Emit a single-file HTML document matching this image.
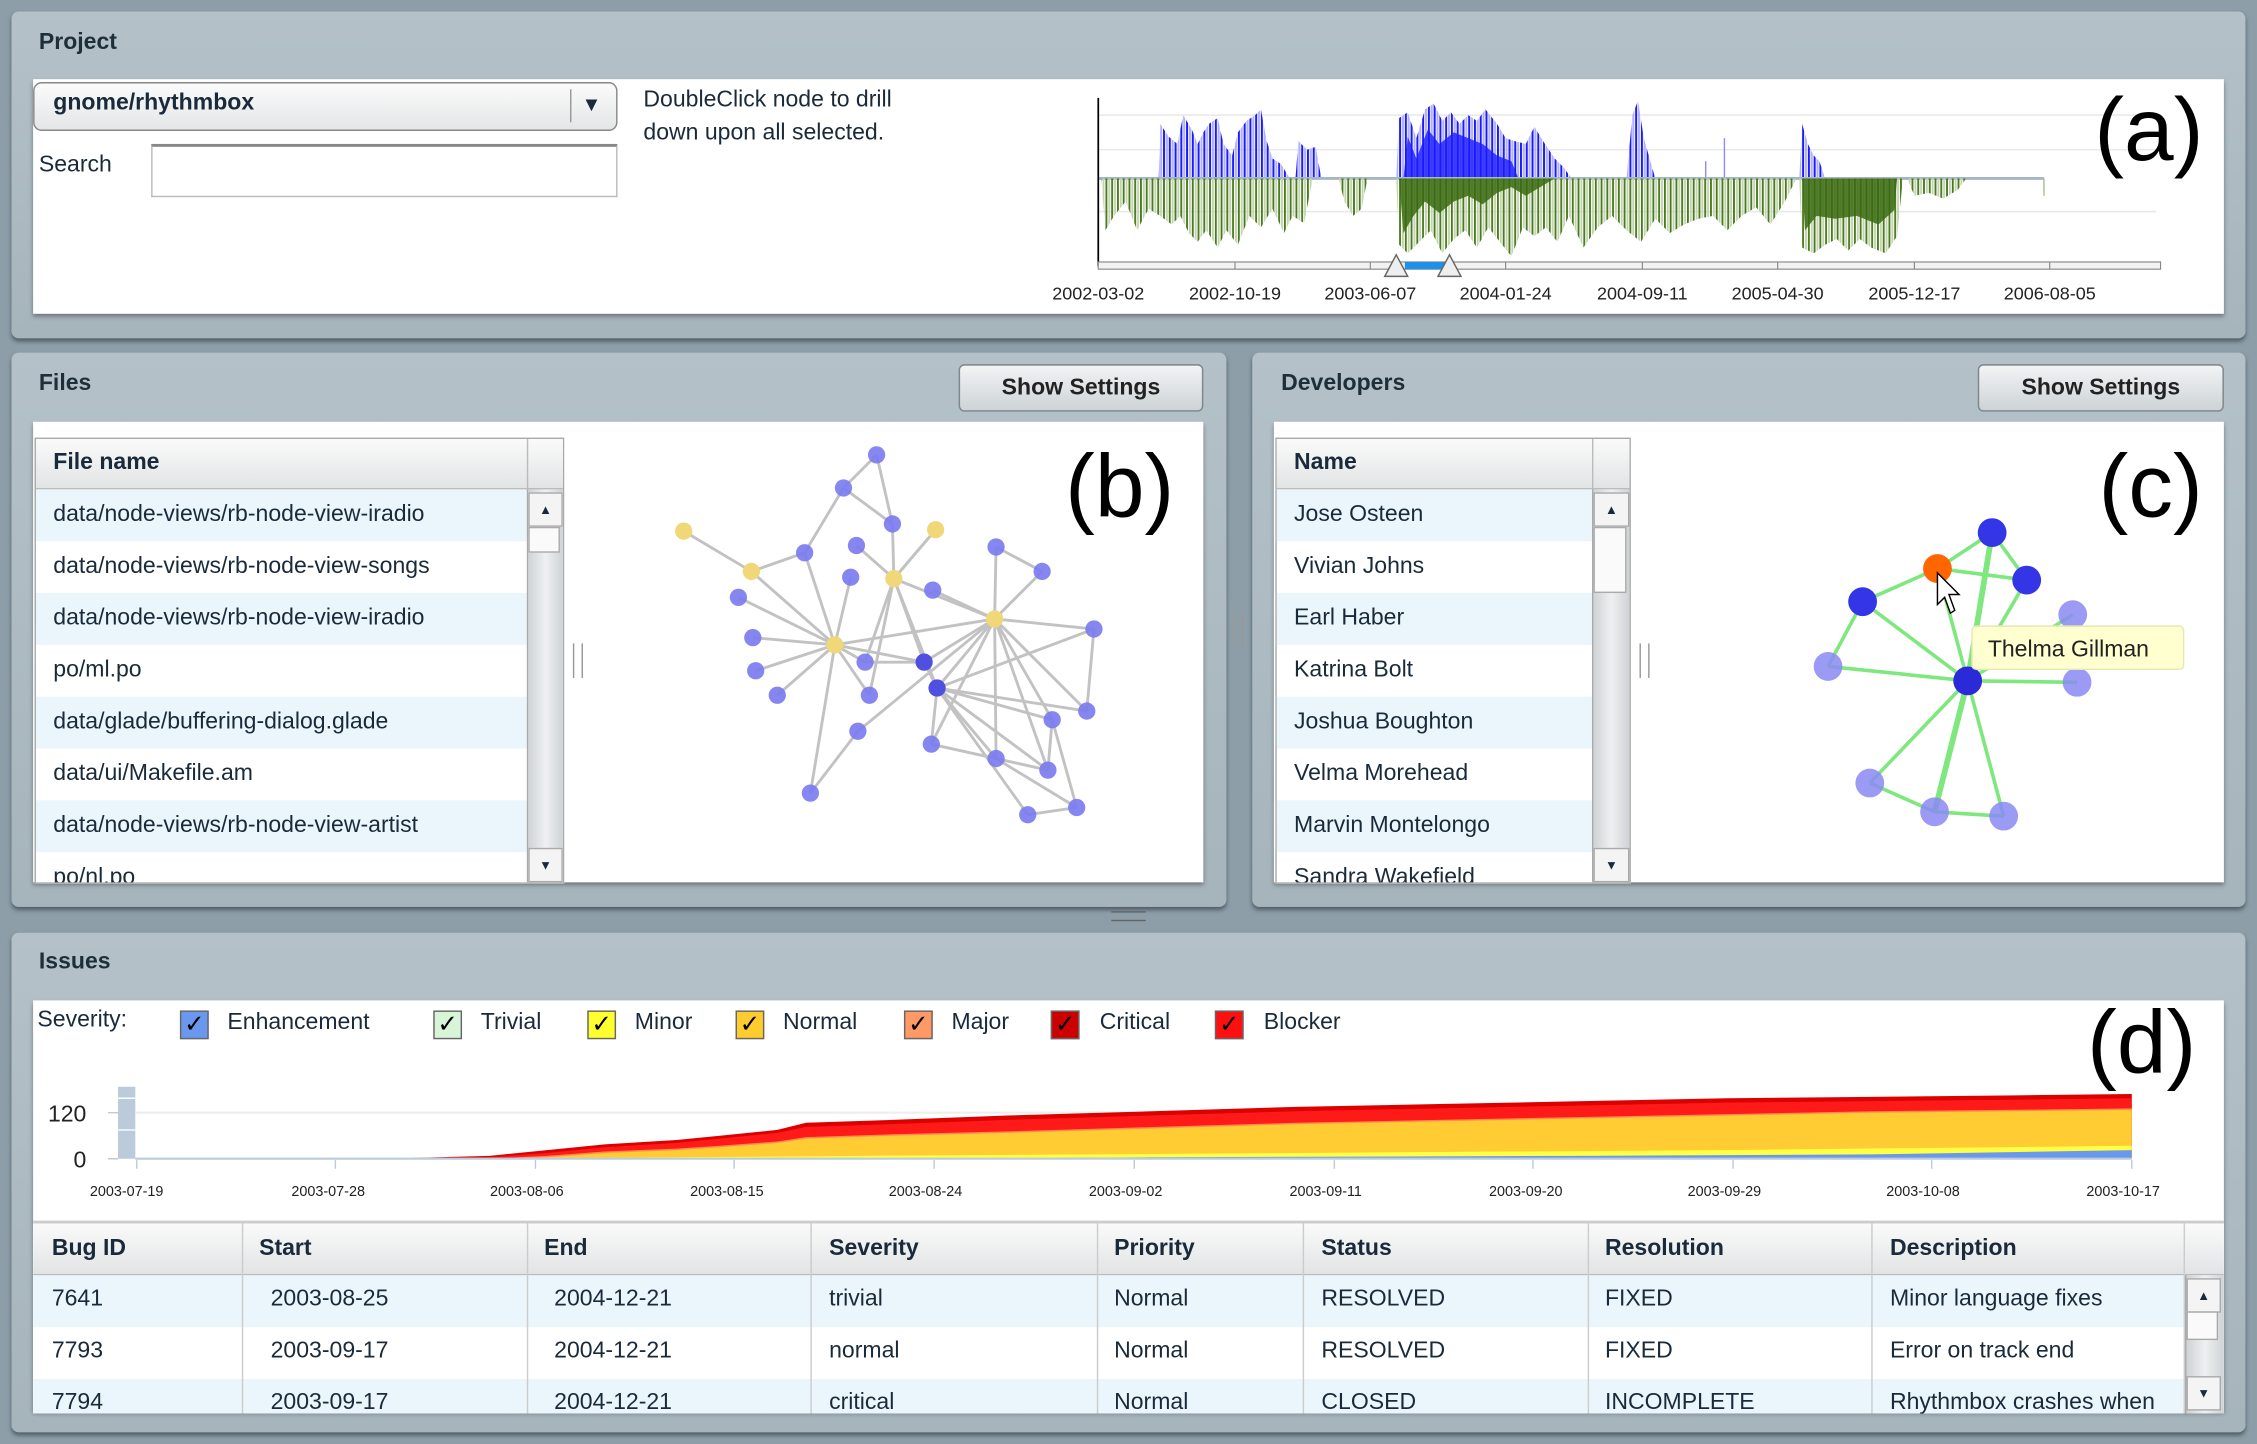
<!DOCTYPE html>
<html><head><meta charset="utf-8">
<style>
html,body{margin:0;padding:0;width:2257px;height:1444px;overflow:hidden;background:#8d9ea9;}
#w{position:absolute;left:0;top:0;width:1568px;height:1003px;transform:scale(1.43941);transform-origin:0 0;font-family:"Liberation Sans",sans-serif;color:#1a2a3a;}
.a{position:absolute;}
.panel{position:absolute;background:linear-gradient(#b4c1c8,#a6b4bc);border-radius:5px;box-shadow:0 2px 3px rgba(40,50,60,.6);}
.title{position:absolute;font-weight:bold;font-size:16px;color:#1f2f3a;}
.white{position:absolute;background:#fff;box-shadow:0 2px 3px rgba(0,0,0,.35);}
.btn{position:absolute;background:linear-gradient(#f2f4f5,#cdd3d6);border:1px solid #7d878c;border-radius:4px;font-weight:bold;font-size:16px;text-align:center;line-height:31px;color:#222;}
.t{position:absolute;font-size:16px;white-space:nowrap;}
.hdr{position:absolute;background:linear-gradient(#fafafa,#e2e4e5);border-bottom:1px solid #bbb;font-weight:bold;font-size:16px;}
.row{position:absolute;height:36px;line-height:36px;font-size:16px;white-space:nowrap;overflow:hidden;padding-left:12px;box-sizing:border-box;}
.alt{background:#eaf6fb;}
.sb{position:absolute;background:linear-gradient(90deg,#cfd3d5,#eef0f1,#cfd3d5);border-left:1px solid #aaa;}
.big{position:absolute;font-size:62px;color:#000;line-height:1;}
.cb{position:absolute;width:18px;height:18px;border:1px solid #666;font-size:17px;line-height:18px;text-align:center;color:#000;}
</style></head><body><div id="w">

<!-- Project -->
<div class="panel" style="left:8px;top:8px;width:1552px;height:227px"></div>
<div class="title" style="left:27px;top:21px">Project</div>
<div class="white" style="left:23px;top:55px;width:1522px;height:163px"></div>
<div class="a" style="left:23px;top:57px;width:404px;height:32px;border:1px solid #888;border-radius:6px;background:linear-gradient(#fbfbfb,#e4e6e7)"></div>
<div class="t" style="left:37px;top:63px;font-weight:bold;font-size:16px">gnome/rhythmbox</div>
<div class="a" style="left:396px;top:62px;width:1px;height:23px;background:#999"></div>
<div class="t" style="left:404px;top:64px;font-size:14px">▼</div>
<div class="t" style="left:27px;top:106px">Search</div>
<div class="a" style="left:105px;top:100px;width:322px;height:34px;border:1px solid #bbb;border-top:2px solid #888;background:#fff"></div>
<div class="t" style="left:447px;top:58px;line-height:23px">DoubleClick node to drill<br>down upon all selected.</div>

<svg class="a" style="left:720px;top:60px" width="840" height="160" viewBox="720 60 840 160">
<defs>
<pattern id="pb" width="4" height="10" patternUnits="userSpaceOnUse"><rect width="1.4" height="10" fill="#1a1aff"/><rect x="2" width="1.4" height="10" fill="#b0b0ff"/></pattern>
<pattern id="pg" width="4" height="10" patternUnits="userSpaceOnUse"><rect width="1.3" height="10" fill="#4a7a1a"/><rect x="2" width="1.3" height="10" fill="#c2d4b0"/></pattern>
</defs>
<line x1="763" y1="80" x2="1498" y2="80" stroke="#e8e8e8"/>
<line x1="763" y1="104" x2="1498" y2="104" stroke="#e8e8e8"/>
<line x1="763" y1="147" x2="1498" y2="147" stroke="#e8e8e8"/>
<polygon fill="url(#pb)" points="805,124 806,86 812,95 818,100 822,80 828,90 832,100 836,92 840,86 846,82 850,100 856,108 860,92 866,84 872,80 876,76 880,98 884,110 890,114 896,124"/>
<polygon fill="url(#pb)" points="900,124 902,98 908,104 914,102 918,124"/>
<polygon fill="url(#pb)" points="970,124 972,82 978,78 984,96 990,76 996,72 1002,84 1008,78 1014,86 1020,80 1026,84 1032,76 1040,86 1046,96 1052,98 1060,100 1066,88 1072,98 1080,110 1086,116 1092,124"/>
<polygon fill="#1a1aff" opacity="0.8" points="975,124 978,95 984,110 992,90 1000,100 1010,92 1020,96 1030,100 1040,108 1050,112 1055,124"/>
<polygon fill="url(#pb)" points="1130,124 1134,80 1138,70 1142,96 1146,110 1150,124"/>
<polygon fill="url(#pb)" points="1250,124 1252,86 1256,100 1260,108 1264,112 1268,124"/>
<line x1="1185" y1="124" x2="1185" y2="112" stroke="#8b8bff"/>
<line x1="1198" y1="124" x2="1198" y2="96" stroke="#8b8bff"/>
<line x1="763" y1="124" x2="1420" y2="124" stroke="#a5b6c4" stroke-width="2"/>
<polygon fill="url(#pg)" points="765,124 768,160 774,150 782,140 790,160 798,145 806,150 814,156 820,150 826,162 832,168 838,160 846,172 852,160 860,170 868,150 876,158 884,145 892,162 898,150 906,155 912,124"/>
<polygon fill="url(#pg)" points="930,124 934,140 940,150 946,145 950,124"/>
<polygon fill="url(#pg)" points="970,124 972,170 978,176 986,168 994,160 1002,176 1010,166 1018,160 1026,172 1034,158 1042,168 1050,178 1058,158 1066,164 1074,158 1082,168 1090,150 1100,172 1110,158 1120,150 1130,160 1140,168 1150,152 1160,162 1170,156 1180,152 1190,150 1200,160 1210,150 1220,144 1230,156 1240,140 1248,124"/>
<polygon fill="#3a6a10" opacity="0.85" points="972,124 975,162 982,150 990,140 1000,148 1010,140 1020,136 1030,142 1040,134 1050,130 1060,136 1070,130 1080,124"/>
<polygon fill="url(#pg)" points="1250,124 1252,172 1260,176 1268,170 1276,166 1284,174 1292,166 1300,172 1310,176 1318,164 1322,124"/>
<polygon fill="#3a6a10" opacity="0.85" points="1252,124 1254,160 1262,150 1275,152 1290,150 1305,156 1316,146 1318,124"/>
<polygon fill="url(#pg)" points="1325,124 1330,136 1340,134 1350,138 1360,132 1366,124"/>
<line x1="1420" y1="124" x2="1420" y2="136" stroke="#a8bf90"/>
<line x1="763" y1="68" x2="763" y2="185" stroke="#000" stroke-width="1.2"/>
<rect x="763" y="182" width="738" height="5" fill="#f2f2f2" stroke="#888" stroke-width="0.8"/>
<rect x="976" y="182" width="30" height="5" fill="#1e90e8"/>
<g stroke="#888" stroke-width="0.8"><line x1="858" y1="182" x2="858" y2="187"/><line x1="952" y1="182" x2="952" y2="187"/><line x1="1046" y1="182" x2="1046" y2="187"/><line x1="1141" y1="182" x2="1141" y2="187"/><line x1="1235" y1="182" x2="1235" y2="187"/><line x1="1330" y1="182" x2="1330" y2="187"/><line x1="1424" y1="182" x2="1424" y2="187"/></g>
<polygon points="962,192 970,177 978,192" fill="#eee" stroke="#666"/>
<polygon points="999,192 1007,177 1015,192" fill="#eee" stroke="#666"/>
<g font-size="12.5" fill="#222" text-anchor="middle" font-family="Liberation Sans">
<text x="763" y="208">2002-03-02</text><text x="858" y="208">2002-10-19</text><text x="952" y="208">2003-06-07</text><text x="1046" y="208">2004-01-24</text><text x="1141" y="208">2004-09-11</text><text x="1235" y="208">2005-04-30</text><text x="1330" y="208">2005-12-17</text><text x="1424" y="208">2006-08-05</text>
</g>
</svg>
<div class="big" style="left:1455px;top:60px">(a)</div>

<!-- Files -->
<div class="panel" style="left:8px;top:245px;width:844px;height:385px"></div>
<div class="title" style="left:27px;top:258px">Files</div>
<div class="btn" style="left:666px;top:253px;width:168px;height:31px">Show Settings</div>
<div class="white" style="left:23px;top:293px;width:813px;height:320px"></div>
<div class="a" style="left:24px;top:304px;width:366px;height:308px;border:1px solid #aaa;overflow:hidden;background:#fff">
 <div class="hdr" style="left:0;top:0;width:341px;height:34px;line-height:34px;padding-left:12px">File name</div>
 <div class="hdr" style="left:341px;top:0;width:25px;height:34px;border-left:1px solid #bbb"></div>
 <div class="row alt" style="left:0;top:35px;width:341px">data/node-views/rb-node-view-iradio</div>
 <div class="row" style="left:0;top:71px;width:341px">data/node-views/rb-node-view-songs</div>
 <div class="row alt" style="left:0;top:107px;width:341px">data/node-views/rb-node-view-iradio</div>
 <div class="row" style="left:0;top:143px;width:341px">po/ml.po</div>
 <div class="row alt" style="left:0;top:179px;width:341px">data/glade/buffering-dialog.glade</div>
 <div class="row" style="left:0;top:215px;width:341px">data/ui/Makefile.am</div>
 <div class="row alt" style="left:0;top:251px;width:341px">data/node-views/rb-node-view-artist</div>
 <div class="row" style="left:0;top:287px;width:341px">po/nl.po</div>
 <div class="sb" style="left:341px;top:35px;width:24px;height:273px"></div>
 <div class="a" style="left:342px;top:37px;width:22px;height:22px;background:#f4f4f4;border:1px solid #aaa;font-size:9px;text-align:center;line-height:22px">▲</div>
 <div class="a" style="left:342px;top:61px;width:20px;height:16px;background:#fafafa;border:1px solid #aaa"></div>
 <div class="a" style="left:342px;top:284px;width:22px;height:22px;background:#f4f4f4;border:1px solid #aaa;font-size:9px;text-align:center;line-height:22px">▼</div>
</div>
<div class="a" style="left:398px;top:447px;width:5px;height:24px;border-left:1px solid #999;border-right:1px solid #999"></div>
<svg class="a" style="left:400px;top:293px" width="436" height="320" viewBox="400 293 436 320">
<g stroke="#b8b8b8" stroke-width="2" opacity="0.85">
<line x1="609" y1="316" x2="586" y2="339"/><line x1="609" y1="316" x2="620" y2="364"/><line x1="586" y1="339" x2="620" y2="364"/><line x1="586" y1="339" x2="559" y2="384"/>
<line x1="475" y1="369" x2="522" y2="397"/><line x1="522" y1="397" x2="559" y2="384"/><line x1="522" y1="397" x2="580" y2="448"/>
<line x1="580" y1="448" x2="513" y2="415"/><line x1="580" y1="448" x2="523" y2="443"/><line x1="580" y1="448" x2="525" y2="466"/><line x1="580" y1="448" x2="540" y2="483"/><line x1="580" y1="448" x2="559" y2="384"/><line x1="580" y1="448" x2="591" y2="401"/><line x1="580" y1="448" x2="601" y2="460"/><line x1="580" y1="448" x2="604" y2="483"/><line x1="580" y1="448" x2="642" y2="460"/><line x1="580" y1="448" x2="691" y2="430"/><line x1="580" y1="448" x2="563" y2="551"/>
<line x1="621" y1="402" x2="595" y2="379"/><line x1="621" y1="402" x2="620" y2="364"/><line x1="621" y1="402" x2="650" y2="368"/><line x1="621" y1="402" x2="642" y2="460"/><line x1="621" y1="402" x2="604" y2="483"/><line x1="621" y1="402" x2="651" y2="478"/><line x1="621" y1="402" x2="601" y2="460"/><line x1="621" y1="402" x2="691" y2="430"/>
<line x1="691" y1="430" x2="648" y2="410"/><line x1="691" y1="430" x2="692" y2="380"/><line x1="691" y1="430" x2="724" y2="397"/><line x1="691" y1="430" x2="760" y2="437"/><line x1="691" y1="430" x2="642" y2="460"/><line x1="691" y1="430" x2="651" y2="478"/><line x1="691" y1="430" x2="731" y2="500"/><line x1="691" y1="430" x2="755" y2="494"/><line x1="691" y1="430" x2="647" y2="517"/><line x1="691" y1="430" x2="692" y2="527"/><line x1="691" y1="430" x2="596" y2="508"/><line x1="691" y1="430" x2="728" y2="535"/>
<line x1="692" y1="380" x2="724" y2="397"/><line x1="760" y1="437" x2="755" y2="494"/><line x1="760" y1="437" x2="651" y2="478"/><line x1="651" y1="478" x2="755" y2="494"/><line x1="651" y1="478" x2="731" y2="500"/><line x1="651" y1="478" x2="692" y2="527"/><line x1="651" y1="478" x2="728" y2="535"/><line x1="651" y1="478" x2="647" y2="517"/><line x1="647" y1="517" x2="692" y2="527"/><line x1="692" y1="527" x2="728" y2="535"/><line x1="728" y1="535" x2="731" y2="500"/><line x1="651" y1="478" x2="714" y2="566"/><line x1="692" y1="527" x2="748" y2="561"/><line x1="714" y1="566" x2="748" y2="561"/><line x1="731" y1="500" x2="748" y2="561"/><line x1="596" y1="508" x2="563" y2="551"/><line x1="642" y1="460" x2="651" y2="478"/><line x1="601" y1="460" x2="642" y2="460"/><line x1="650" y1="368" x2="621" y2="402"/>
</g>
<g fill="#7a7af0" opacity="0.9">
<circle cx="609" cy="316" r="6"/><circle cx="586" cy="339" r="6"/><circle cx="620" cy="364" r="6"/><circle cx="559" cy="384" r="6"/><circle cx="595" cy="379" r="6"/><circle cx="591" cy="401" r="6"/><circle cx="513" cy="415" r="6"/><circle cx="648" cy="410" r="6"/><circle cx="692" cy="380" r="6"/><circle cx="724" cy="397" r="6"/><circle cx="760" cy="437" r="6"/><circle cx="523" cy="443" r="6"/><circle cx="525" cy="466" r="6"/><circle cx="540" cy="483" r="6"/><circle cx="601" cy="460" r="6"/><circle cx="604" cy="483" r="6"/><circle cx="596" cy="508" r="6"/><circle cx="731" cy="500" r="6"/><circle cx="755" cy="494" r="6"/><circle cx="647" cy="517" r="6"/><circle cx="692" cy="527" r="6"/><circle cx="728" cy="535" r="6"/><circle cx="563" cy="551" r="6"/><circle cx="714" cy="566" r="6"/><circle cx="748" cy="561" r="6"/>
</g>
<g fill="#4f4fe0"><circle cx="642" cy="460" r="6"/><circle cx="651" cy="478" r="6"/></g>
<g fill="#f0d878"><circle cx="475" cy="369" r="6"/><circle cx="522" cy="397" r="6"/><circle cx="650" cy="368" r="6"/><circle cx="580" cy="448" r="6"/><circle cx="621" cy="402" r="6"/><circle cx="691" cy="430" r="6"/></g>
</svg>
<div class="big" style="left:740px;top:308px">(b)</div>

<!-- Developers -->
<div class="panel" style="left:870px;top:245px;width:690px;height:385px"></div>
<div class="title" style="left:890px;top:258px">Developers</div>
<div class="btn" style="left:1374px;top:253px;width:169px;height:31px">Show Settings</div>
<div class="white" style="left:885px;top:293px;width:660px;height:320px"></div>
<div class="a" style="left:886px;top:304px;width:245px;height:308px;border:1px solid #aaa;overflow:hidden;background:#fff">
 <div class="hdr" style="left:0;top:0;width:207px;height:34px;line-height:34px;padding-left:12px">Name</div>
 <div class="hdr" style="left:219px;top:0;width:26px;height:34px;border-left:1px solid #bbb"></div>
 <div class="row alt" style="left:0;top:35px;width:219px">Jose Osteen</div>
 <div class="row" style="left:0;top:71px;width:219px">Vivian Johns</div>
 <div class="row alt" style="left:0;top:107px;width:219px">Earl Haber</div>
 <div class="row" style="left:0;top:143px;width:219px">Katrina Bolt</div>
 <div class="row alt" style="left:0;top:179px;width:219px">Joshua Boughton</div>
 <div class="row" style="left:0;top:215px;width:219px">Velma Morehead</div>
 <div class="row alt" style="left:0;top:251px;width:219px">Marvin Montelongo</div>
 <div class="row" style="left:0;top:287px;width:219px">Sandra Wakefield</div>
 <div class="sb" style="left:219px;top:35px;width:25px;height:273px"></div>
 <div class="a" style="left:220px;top:37px;width:23px;height:22px;background:#f4f4f4;border:1px solid #aaa;font-size:9px;text-align:center;line-height:22px">▲</div>
 <div class="a" style="left:220px;top:61px;width:21px;height:44px;background:#fafafa;border:1px solid #aaa"></div>
 <div class="a" style="left:220px;top:284px;width:23px;height:22px;background:#f4f4f4;border:1px solid #aaa;font-size:9px;text-align:center;line-height:22px">▼</div>
</div>
<div class="a" style="left:1139px;top:447px;width:5px;height:24px;border-left:1px solid #999;border-right:1px solid #999"></div>
<div class="a" style="left:857px;top:425px;width:5px;height:24px;border-left:1px solid #999;border-right:1px solid #999"></div>
<div class="a" style="left:772px;top:633px;width:24px;height:5px;border-top:1px solid #666;border-bottom:1px solid #666"></div>
<svg class="a" style="left:1140px;top:293px" width="405" height="320" viewBox="1140 293 405 320">
<g stroke="#7ee87e" stroke-width="2.5">
<line x1="1367" y1="473" x2="1346" y2="395"/><line x1="1367" y1="473" x2="1384" y2="370"/><line x1="1367" y1="473" x2="1408" y2="403"/><line x1="1367" y1="473" x2="1294" y2="418"/><line x1="1367" y1="473" x2="1270" y2="463"/><line x1="1367" y1="473" x2="1440" y2="427"/><line x1="1367" y1="473" x2="1443" y2="474"/><line x1="1367" y1="473" x2="1299" y2="544"/><line x1="1367" y1="473" x2="1344" y2="564" stroke-width="4"/><line x1="1367" y1="473" x2="1392" y2="567"/>
<line x1="1346" y1="395" x2="1384" y2="370"/><line x1="1346" y1="395" x2="1408" y2="403"/><line x1="1346" y1="395" x2="1294" y2="418"/><line x1="1384" y1="370" x2="1408" y2="403"/><line x1="1294" y1="418" x2="1270" y2="463"/><line x1="1299" y1="544" x2="1344" y2="564"/><line x1="1344" y1="564" x2="1392" y2="567"/><line x1="1367" y1="473" x2="1384" y2="370" stroke-width="4"/>
</g>
<g fill="#8a8af5" opacity="0.85"><circle cx="1270" cy="463" r="10"/><circle cx="1440" cy="427" r="10"/><circle cx="1443" cy="474" r="10"/><circle cx="1299" cy="544" r="10"/><circle cx="1344" cy="564" r="10"/><circle cx="1392" cy="567" r="10"/></g>
<g fill="#3535e8"><circle cx="1384" cy="370" r="10"/><circle cx="1408" cy="403" r="10"/><circle cx="1294" cy="418" r="10"/><circle cx="1367" cy="473" r="10" fill="#2a2ad8"/></g>
<circle cx="1346" cy="395" r="10" fill="#ff6600"/>
<polygon points="1346,398 1346,420 1351,415 1355,426 1358,424 1354,413 1361,413" fill="#fff" stroke="#000" stroke-width="1"/>
<rect x="1370" y="435" width="147" height="30" rx="3" fill="#ffffd0" stroke="#e8e8b0"/>
<text x="1381" y="456" font-size="16" font-family="Liberation Sans" fill="#222">Thelma Gillman</text>
</svg>
<div class="big" style="left:1458px;top:308px">(c)</div>

<!-- Issues -->
<div class="panel" style="left:8px;top:648px;width:1552px;height:347px"></div>
<div class="title" style="left:27px;top:660px">Issues</div>
<div class="white" style="left:23px;top:695px;width:1522px;height:285px"></div>
<div class="t" style="left:26px;top:700px">Severity:</div>
<div class="cb" style="left:125px;top:702px;background:#6a98ee">✓</div><div class="t" style="left:158px;top:702px">Enhancement</div>
<div class="cb" style="left:301px;top:702px;background:#d9f5d9">✓</div><div class="t" style="left:334px;top:702px">Trivial</div>
<div class="cb" style="left:408px;top:702px;background:#ffff30">✓</div><div class="t" style="left:441px;top:702px">Minor</div>
<div class="cb" style="left:511px;top:702px;background:#ffcc30">✓</div><div class="t" style="left:544px;top:702px">Normal</div>
<div class="cb" style="left:628px;top:702px;background:#ff9966">✓</div><div class="t" style="left:661px;top:702px">Major</div>
<div class="cb" style="left:730px;top:702px;background:#cc0000">✓</div><div class="t" style="left:764px;top:702px">Critical</div>
<div class="cb" style="left:844px;top:702px;background:#ff1010">✓</div><div class="t" style="left:878px;top:702px">Blocker</div>
<div class="big" style="left:1450px;top:694px">(d)</div>
<svg class="a" style="left:23px;top:740px" width="1522" height="108" viewBox="23 740 1522 108">
<rect x="82" y="755" width="12" height="50" fill="#bccbdb"/>
<line x1="82" y1="763" x2="94" y2="763" stroke="#fff"/><line x1="82" y1="785" x2="94" y2="785" stroke="#fff"/>
<line x1="94" y1="773" x2="1481" y2="773" stroke="#eee" stroke-width="1.5"/>
<line x1="75" y1="773" x2="82" y2="773" stroke="#bccbdb"/><line x1="75" y1="805" x2="82" y2="805" stroke="#bccbdb"/>
<polygon fill="#dd0000" points="265,805 340,803 380,799 420,795 470,792 500,789 540,785 560,780 620,778 700,775 800,772 900,769 1000,767 1100,765 1200,763 1300,762 1400,761 1481,760 1481,805"/>
<polygon fill="#ff1a1a" points="265,805 340,804 380,801 420,797 470,794 500,791 540,787 560,783 620,781 700,778 800,775 900,772 1000,770 1100,768 1200,766 1300,765 1400,764 1481,763 1481,805"/>
<polygon fill="#ff8a50" points="300,805 340,805 380,803 420,800 470,798 500,796 540,793 560,790 620,788 700,786 800,783 900,780 1000,778 1100,776 1200,774 1300,772 1400,771 1481,770 1481,805"/>
<polygon fill="#ffcc33" points="340,805 380,804 420,801 470,799 500,797 540,794 560,791 620,789 700,787 800,784 900,781 1000,779 1100,777 1200,775 1300,773 1400,772 1481,771 1481,805"/>
<polygon fill="#ffff44" points="330,805 600,803 900,801 1200,799 1481,796 1481,805"/>
<polygon fill="#6a98ee" points="600,805 800,804 1100,803 1300,802 1481,799 1481,805"/>
<line x1="94" y1="805" x2="1481" y2="805" stroke="#bccbdb" stroke-width="1.5"/>
<g stroke="#bccbdb"><line x1="95" y1="806" x2="95" y2="812"/><line x1="233" y1="806" x2="233" y2="812"/><line x1="372" y1="806" x2="372" y2="812"/><line x1="510" y1="806" x2="510" y2="812"/><line x1="649" y1="806" x2="649" y2="812"/><line x1="788" y1="806" x2="788" y2="812"/><line x1="927" y1="806" x2="927" y2="812"/><line x1="1065" y1="806" x2="1065" y2="812"/><line x1="1204" y1="806" x2="1204" y2="812"/><line x1="1342" y1="806" x2="1342" y2="812"/><line x1="1481" y1="806" x2="1481" y2="812"/></g>
<g font-family="Liberation Sans" fill="#222">
<text x="60" y="779" font-size="16" text-anchor="end">120</text><text x="60" y="811" font-size="16" text-anchor="end">0</text>
<g font-size="10" text-anchor="middle"><text x="88" y="831">2003-07-19</text><text x="228" y="831">2003-07-28</text><text x="366" y="831">2003-08-06</text><text x="505" y="831">2003-08-15</text><text x="643" y="831">2003-08-24</text><text x="782" y="831">2003-09-02</text><text x="921" y="831">2003-09-11</text><text x="1060" y="831">2003-09-20</text><text x="1198" y="831">2003-09-29</text><text x="1336" y="831">2003-10-08</text><text x="1475" y="831">2003-10-17</text></g>
</g>
</svg>
<div class="a" style="left:23px;top:848px;width:1522px;height:132px;overflow:hidden;background:#fff;border-top:2px solid #ccc">
 <div class="hdr" style="left:0;top:0;width:1522px;height:35px"></div>
 <div class="a" style="left:0;top:36px;width:1495px;height:36px;background:#eaf6fb"></div>
 <div class="a" style="left:0;top:108px;width:1495px;height:36px;background:#eaf6fb"></div>
 <div class="a" style="left:145px;top:0;width:1px;height:132px;background:#ccc"></div>
 <div class="a" style="left:343px;top:0;width:1px;height:132px;background:#ccc"></div>
 <div class="a" style="left:540px;top:0;width:1px;height:132px;background:#ccc"></div>
 <div class="a" style="left:739px;top:0;width:1px;height:132px;background:#ccc"></div>
 <div class="a" style="left:882px;top:0;width:1px;height:132px;background:#ccc"></div>
 <div class="a" style="left:1080px;top:0;width:1px;height:132px;background:#ccc"></div>
 <div class="a" style="left:1277px;top:0;width:1px;height:132px;background:#ccc"></div>
 <div class="a" style="left:1494px;top:0;width:1px;height:132px;background:#ccc"></div>
 <div class="t" style="left:13px;top:9px;font-weight:bold">Bug ID</div><div class="t" style="left:157px;top:9px;font-weight:bold">Start</div><div class="t" style="left:355px;top:9px;font-weight:bold">End</div><div class="t" style="left:553px;top:9px;font-weight:bold">Severity</div><div class="t" style="left:751px;top:9px;font-weight:bold">Priority</div><div class="t" style="left:895px;top:9px;font-weight:bold">Status</div><div class="t" style="left:1092px;top:9px;font-weight:bold">Resolution</div><div class="t" style="left:1290px;top:9px;font-weight:bold">Description</div>
 <div class="t" style="left:13px;top:44px">7641</div><div class="t" style="left:165px;top:44px">2003-08-25</div><div class="t" style="left:362px;top:44px">2004-12-21</div><div class="t" style="left:553px;top:44px">trivial</div><div class="t" style="left:751px;top:44px">Normal</div><div class="t" style="left:895px;top:44px">RESOLVED</div><div class="t" style="left:1092px;top:44px">FIXED</div><div class="t" style="left:1290px;top:44px">Minor language fixes</div>
 <div class="t" style="left:13px;top:80px">7793</div><div class="t" style="left:165px;top:80px">2003-09-17</div><div class="t" style="left:362px;top:80px">2004-12-21</div><div class="t" style="left:553px;top:80px">normal</div><div class="t" style="left:751px;top:80px">Normal</div><div class="t" style="left:895px;top:80px">RESOLVED</div><div class="t" style="left:1092px;top:80px">FIXED</div><div class="t" style="left:1290px;top:80px">Error on track end</div>
 <div class="t" style="left:13px;top:116px">7794</div><div class="t" style="left:165px;top:116px">2003-09-17</div><div class="t" style="left:362px;top:116px">2004-12-21</div><div class="t" style="left:553px;top:116px">critical</div><div class="t" style="left:751px;top:116px">Normal</div><div class="t" style="left:895px;top:116px">CLOSED</div><div class="t" style="left:1092px;top:116px">INCOMPLETE</div><div class="t" style="left:1290px;top:116px;width:204px;overflow:hidden">Rhythmbox crashes when</div>
 <div class="sb" style="left:1495px;top:36px;width:26px;height:96px"></div>
 <div class="a" style="left:1496px;top:38px;width:22px;height:22px;background:#f4f4f4;border:1px solid #aaa;font-size:9px;text-align:center;line-height:22px">▲</div>
 <div class="a" style="left:1496px;top:61px;width:20px;height:18px;background:#fafafa;border:1px solid #aaa"></div>
 <div class="a" style="left:1496px;top:106px;width:22px;height:22px;background:#f4f4f4;border:1px solid #aaa;font-size:9px;text-align:center;line-height:22px">▼</div>
</div>
</div></body></html>
